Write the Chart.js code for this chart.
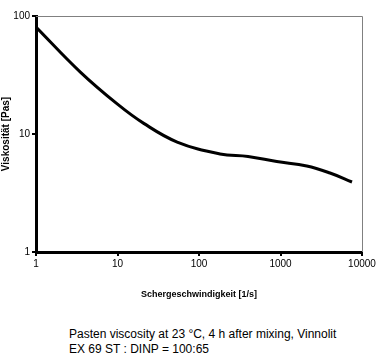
<!DOCTYPE html>
<html>
<head>
<meta charset="utf-8">
<script src="https://cdn.jsdelivr.net/npm/chart.js@4"></script>
<style>
  html, body { margin: 0; padding: 0; background: #fff; }
  #wrap { position: relative; width: 382px; height: 300px; }
  #caption {
    position: absolute; left: 69px; top: 327px;
    font: 12px "Liberation Sans", Arial, sans-serif; line-height: 15px; color: #000;
  }
</style>
</head>
<body>
<div id="wrap"><canvas id="viscChart" width="382" height="300"></canvas></div>
<div id="caption">Pasten viscosity at 23 °C, 4 h after mixing, Vinnolit<br>EX 69 ST : DINP = 100:65</div>
<script>
// shear rate [1/s] and viscosity [Pas]
var shearRate = [1, 3.5, 10, 21, 54, 181, 400, 900, 2100, 4050, 7540];
var viscosity = [80.7, 33.5, 17.9, 12.3, 8.55, 6.78, 6.45, 5.85, 5.36, 4.67, 3.92];
var xTicks = [1, 10, 100, 1000, 10000];
var yTicks = [1, 10, 100];

var points = shearRate.map(function (x, i) { return { x: x, y: viscosity[i] }; });

// thin grey frame on top and right side
var frame = {
    id: 'frame',
    afterDraw: function (chart) {
        var a = chart.chartArea, c = chart.ctx;
        c.save();
        c.strokeStyle = '#808080';
        c.lineWidth = 1;
        c.beginPath();
        c.moveTo(a.left, a.top + 0.5);
        c.lineTo(a.right + 0.5, a.top + 0.5);
        c.lineTo(a.right + 0.5, a.bottom);
        c.stroke();
        c.restore();
    }
};

var tickFont = { family: "'Liberation Sans Narrow', 'Liberation Sans', Arial", size: 10 };

var ctx = document.getElementById("viscChart");
var myChart = new Chart(ctx, {
    type: 'line',
    data: {
        datasets: [{
            data: points,
            borderColor: '#000',
            borderWidth: 3,
            pointRadius: 0,
            fill: false,
            tension: 0.4
        }]
    },
    plugins: [frame],
    options: {
        animation: false,
        responsive: false,
        layout: { padding: { top: 16, right: 20, left: 0, bottom: 0 } },
        plugins: {
            legend: { display: false },
            tooltip: { enabled: false }
        },
        scales: {
            x: {
                type: 'logarithmic',
                min: 1,
                max: 10000,
                afterBuildTicks: function (s) { s.ticks = xTicks.map(function (v) { return { value: v }; }); },
                afterFit: function (s) { s.height = 48; },
                ticks: {
                    color: '#000',
                    font: tickFont,
                    padding: 2,
                    maxRotation: 0,
                    callback: function (v) { return String(v); }
                },
                grid: { drawOnChartArea: false, color: '#000', lineWidth: 2, tickLength: 4 },
                border: { color: '#000', width: 3 },
                title: {
                    display: true,
                    text: 'Schergeschwindigkeit [1/s]',
                    color: '#000',
                    font: { family: "'Liberation Sans Narrow', 'Liberation Sans', Arial", size: 9, weight: 'bold' },
                    padding: { top: 6, bottom: 0 }
                }
            },
            y: {
                type: 'logarithmic',
                min: 1,
                max: 100,
                afterBuildTicks: function (s) { s.ticks = yTicks.map(function (v) { return { value: v }; }); },
                afterFit: function (s) { s.width = 36; },
                ticks: {
                    color: '#000',
                    font: tickFont,
                    padding: 2,
                    callback: function (v) { return String(v); }
                },
                grid: { drawOnChartArea: false, color: '#000', lineWidth: 2, tickLength: 4 },
                border: { color: '#000', width: 3 },
                title: {
                    display: true,
                    text: 'Viskosität [Pas]',
                    color: '#000',
                    font: { family: "'Liberation Sans', Arial", size: 10, weight: 'bold' },
                    padding: { top: 0, bottom: 1 }
                }
            }
        }
    }
});
</script>
</body>
</html>
